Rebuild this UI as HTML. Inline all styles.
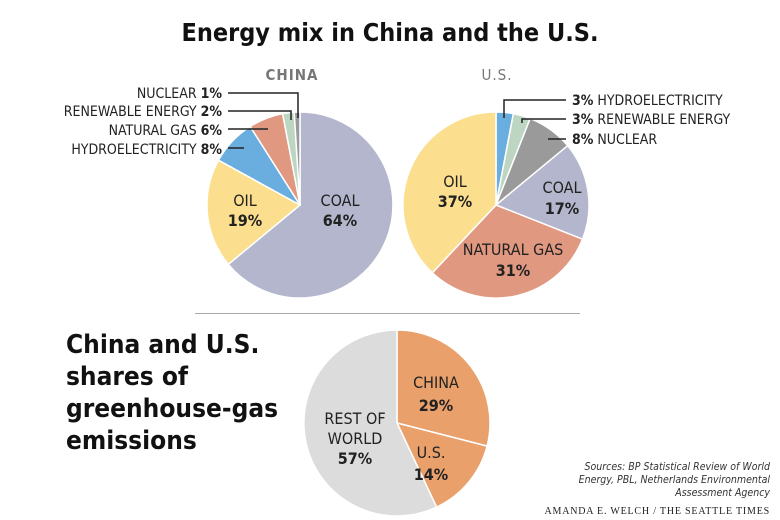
<!DOCTYPE html>
<html><head><meta charset="utf-8"><style>
body{margin:0;background:#fff}
svg{display:block}
text{font-family:"Liberation Sans Narrow","DejaVu Sans Condensed","Liberation Sans",sans-serif;fill:#222}
.b{font-weight:bold}
</style></head><body>
<svg width="780" height="520" viewBox="0 0 780 520">
<text x="390" y="41" text-anchor="middle" class="b" style="font-size:25px;fill:#111">Energy mix in China and the U.S.</text>
<text x="292" y="80" text-anchor="middle" class="b" style="font-size:15px;fill:#777;letter-spacing:1px">CHINA</text>
<text x="497" y="80" text-anchor="middle" style="font-size:15px;fill:#777;letter-spacing:1px">U.S.</text>
<g stroke="#fff" stroke-width="1.5">
<path d="M300,205 L300,112 A93,93 0 1 1 228.3,264.3 Z" fill="#b3b6cc"/>
<path d="M300,205 L228.3,264.3 A93,93 0 0 1 218.5,160.2 Z" fill="#fbdf8f"/>
<path d="M300,205 L218.5,160.2 A93,93 0 0 1 250.2,126.5 Z" fill="#6aaee0"/>
<path d="M300,205 L250.2,126.5 A93,93 0 0 1 282.6,113.6 Z" fill="#e09880"/>
<path d="M300,205 L282.6,113.6 A93,93 0 0 1 294.2,112.2 Z" fill="#bcd6c2"/>
<path d="M300,205 L294.2,112.2 A93,93 0 0 1 300,112 Z" fill="#9a9a9a"/>
<path d="M496,205 L496,112 A93,93 0 0 1 513.4,113.6 Z" fill="#6aaee0"/>
<path d="M496,205 L513.4,113.6 A93,93 0 0 1 530.2,118.5 Z" fill="#bcd6c2"/>
<path d="M496,205 L530.2,118.5 A93,93 0 0 1 567.7,145.7 Z" fill="#9a9a9a"/>
<path d="M496,205 L567.7,145.7 A93,93 0 0 1 582.5,239.2 Z" fill="#b3b6cc"/>
<path d="M496,205 L582.5,239.2 A93,93 0 0 1 432.3,272.8 Z" fill="#e09880"/>
<path d="M496,205 L432.3,272.8 A93,93 0 0 1 496,112 Z" fill="#fbdf8f"/>
<path d="M397,423 L397,330 A93,93 0 0 1 487.1,446.1 Z" fill="#e9a06a"/>
<path d="M397,423 L487.1,446.1 A93,93 0 0 1 436.6,507.1 Z" fill="#e9a06a"/>
<path d="M397,423 L436.6,507.1 A93,93 0 1 1 397,330 Z" fill="#dcdcdc"/>
</g>
<g stroke="#222" stroke-width="1.5" fill="none">
<path d="M228,93 H298 V118"/>
<path d="M228,111 H291 V120"/>
<path d="M228,129 H268"/>
<path d="M228,148 H244"/>
<path d="M566,100 H504 V118"/>
<path d="M566,119 H522 V123"/>
<path d="M566,139 H548"/>
</g>
<g style="font-size:14px" text-anchor="end">
<text x="222" y="98">NUCLEAR <tspan class="b">1%</tspan></text>
<text x="222" y="116">RENEWABLE ENERGY <tspan class="b">2%</tspan></text>
<text x="222" y="135">NATURAL GAS <tspan class="b">6%</tspan></text>
<text x="222" y="154">HYDROELECTRICITY <tspan class="b">8%</tspan></text>
</g>
<g style="font-size:14px">
<text x="572" y="105"><tspan class="b">3%</tspan> HYDROELECTRICITY</text>
<text x="572" y="124"><tspan class="b">3%</tspan> RENEWABLE ENERGY</text>
<text x="572" y="144"><tspan class="b">8%</tspan> NUCLEAR</text>
</g>
<g style="font-size:16px" text-anchor="middle">
<text x="245" y="206">OIL</text><text x="245" y="226" class="b">19%</text>
<text x="340" y="206">COAL</text><text x="340" y="226" class="b">64%</text>
<text x="455" y="187">OIL</text><text x="455" y="207" class="b">37%</text>
<text x="562" y="193">COAL</text><text x="562" y="214" class="b">17%</text>
<text x="513" y="255">NATURAL GAS</text><text x="513" y="276" class="b">31%</text>
<text x="436" y="388">CHINA</text><text x="436" y="411" class="b">29%</text>
<text x="355" y="424">REST OF</text><text x="355" y="444">WORLD</text><text x="355" y="464" class="b">57%</text>
<text x="431" y="458">U.S.</text><text x="431" y="480" class="b">14%</text>
</g>
<line x1="195" y1="313.5" x2="580" y2="313.5" stroke="#aaa" stroke-width="1"/>
<g class="b" style="font-size:26px;fill:#111">
<text x="66" y="353" style="fill:#111">China and U.S.</text>
<text x="66" y="385" style="fill:#111">shares of</text>
<text x="66" y="417" style="fill:#111">greenhouse-gas</text>
<text x="66" y="449" style="fill:#111">emissions</text>
</g>
<g style="font-size:10.5px;font-style:italic" text-anchor="end">
<text x="770" y="470" style="fill:#333">Sources: BP Statistical Review of World</text>
<text x="770" y="483" style="fill:#333">Energy, PBL, Netherlands Environmental</text>
<text x="770" y="496" style="fill:#333">Assessment Agency</text>
</g>
<text x="770" y="514" text-anchor="end" style="font-family:'Liberation Serif',serif;font-size:10px;letter-spacing:0.8px;fill:#222">AMANDA E. WELCH / THE SEATTLE TIMES</text>
</svg>
</body></html>
